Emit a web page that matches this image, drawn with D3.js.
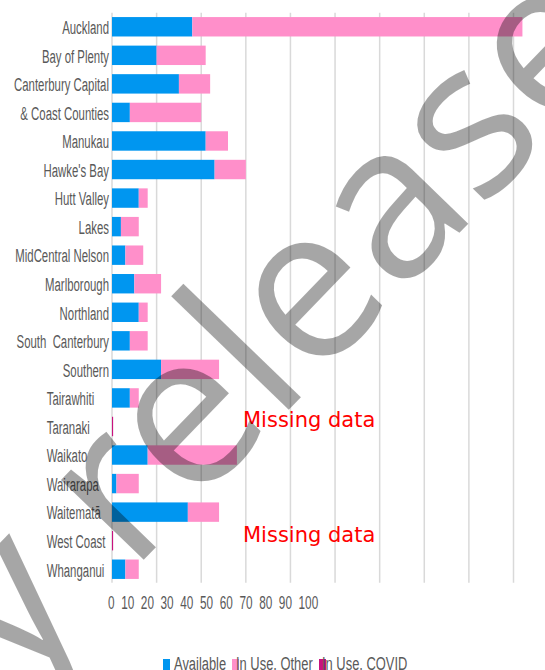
<!DOCTYPE html>
<html>
<head>
<meta charset="utf-8">
<script src="https://cdn.jsdelivr.net/npm/d3@7"></script>
<style>
  body { margin: 0; background: #fff; }
  svg { display: block; }
  text { white-space: pre; }
</style>
</head>
<body>
<script>
// Beds by district, stacked: available / in use (other) / in use (covid)
var districts = ["Auckland", "Bay of Plenty", "Canterbury Capital", "& Coast Counties", "Manukau",
  "Hawke's Bay", "Hutt Valley", "Lakes", "MidCentral Nelson", "Marlborough", "Northland",
  "South  Canterbury", "Southern", "Tairawhiti", "Taranaki", "Waikato", "Wairarapa",
  "Waitematā", "West Coast", "Whanganui"]
var available  = [18, 10, 15, 4, 21, 23, 6, 2, 3, 5, 6, 4, 11, 4, 0, 8, 1, 17, 0, 3]
var inUseOther = [74, 11, 7, 16, 5, 7, 2, 4, 4, 6, 2, 4, 13, 2, 0, 20, 5, 7, 0, 3]
var inUseCovid = [0, 0, 0, 0, 0, 0, 0, 0, 0, 0, 0, 0, 0, 0, 0.25, 0, 0, 0, 0.25, 0]
var seriesNames = ["Available", "In Use, Other", "In Use, COVID"]
var tickLabels = [0, 10, 20, 30, 40, 50, 60, 70, 80, 90, 100]
var missingData = ["Taranaki", "West Coast"]
// these rows were padded in the source sheet, so their labels line up on the left
var leftLabels = ["Tairawhiti", "Taranaki", "Waikato", "Wairarapa", "Waitematā", "West Coast", "Whanganui"]

var W = 545, H = 670
  , colors = d3.scaleOrdinal().domain(seriesNames).range(["#0096f0", "#ff8fca", "#c8127e"])
  , labelFont = "'Liberation Sans', Arial, sans-serif"
  , squeeze = 0.6 // the sheet font is very narrow

var svg = d3.select("body").append("svg").attr("width", W).attr("height", H)

var x = d3.scaleLinear().domain([0, 90]).range([112, 513.5])
var y = d3.scaleBand().domain(districts).range([12.5, 583.5]).paddingInner(0.32).paddingOuter(0.16)

// gridlines
svg.append("g").selectAll("line").data(x.ticks(9)).enter().append("line")
  .attr("x1", function(d) { return x(d) }).attr("x2", function(d) { return x(d) })
  .attr("y1", 12.7).attr("y2", 582.7)
  .attr("stroke", "#d9d9d9").attr("stroke-width", 1.5)

var rows = districts.map(function(name, i) {
  return { name: name, "Available": available[i], "In Use, Other": inUseOther[i], "In Use, COVID": inUseCovid[i] }
})
var stacked = d3.stack().keys(seriesNames)(rows)

svg.append("g").selectAll("g").data(stacked).enter().append("g")
    .attr("fill", function(s) { return colors(s.key) })
  .selectAll("rect").data(function(s) { return s }).enter().append("rect")
    .attr("x", function(d) { return x(d[0]) })
    .attr("width", function(d) { return x(d[1]) - x(d[0]) })
    .attr("y", function(d) { return y(d.data.name) })
    .attr("height", y.bandwidth())

// category labels
svg.append("g").selectAll("g").data(districts).enter().append("g")
    .attr("transform", function(d) {
      var left = leftLabels.indexOf(d) >= 0
      return "translate(" + (left ? 46.7 : 109) + "," + (y(d) + y.bandwidth() / 2 + 7.3) + ") scale(" + squeeze + ",1)"
    })
  .append("text")
    .attr("text-anchor", function(d) { return leftLabels.indexOf(d) >= 0 ? "start" : "end" })
    .attr("font-family", labelFont).attr("font-size", 19).attr("fill", "#595959")
    .text(function(d) { return d })

// tick labels sit in a row under the plot
var tickRow = svg.append("g").attr("transform", "translate(108,609.3) scale(0.63,1)")
  .append("text").attr("font-family", labelFont).attr("font-size", 18.7).attr("fill", "#595959")
tickRow.selectAll("tspan").data(tickLabels).enter().append("tspan")
  .attr("dx", function(d, i) { return i ? 10.5 : 0 })
  .text(function(d) { return d })

// missing data notes
svg.append("g").selectAll("text").data(missingData).enter().append("text")
  .attr("x", 243).attr("y", function(d) { return y(d) + y.bandwidth() / 2 + 1 })
  .attr("font-family", "'DejaVu Sans', Verdana, sans-serif").attr("font-size", 21)
  .attr("fill", "#ff0000")
  .text("Missing data")

// legend
var legendX = [163, 232, 319], legendText = [11, 4, 3]
var legend = svg.append("g").selectAll("g").data(seriesNames).enter().append("g")
  .attr("transform", function(d, i) { return "translate(" + legendX[i] + ",659)" })
legend.append("rect").attr("width", 7).attr("height", 12).attr("fill", function(d) { return colors(d) })
legend.append("g").attr("transform", function(d, i) { return "translate(" + legendText[i] + ",10.5) scale(0.68,1)" })
  .append("text").attr("font-family", labelFont).attr("font-size", 19).attr("fill", "#595959")
  .text(function(d) { return d })

// watermark over everything
var mark = svg.append("g").attr("transform", "translate(131,573) rotate(-46)")
  .attr("font-family", "'Open Sans', 'Noto Sans', sans-serif").attr("font-size", 215)
  .attr("fill", "#000").attr("fill-opacity", 0.35)
mark.append("text").attr("text-anchor", "end").text("Proactively ")
mark.append("text").text("released")
</script>
</body>
</html>
